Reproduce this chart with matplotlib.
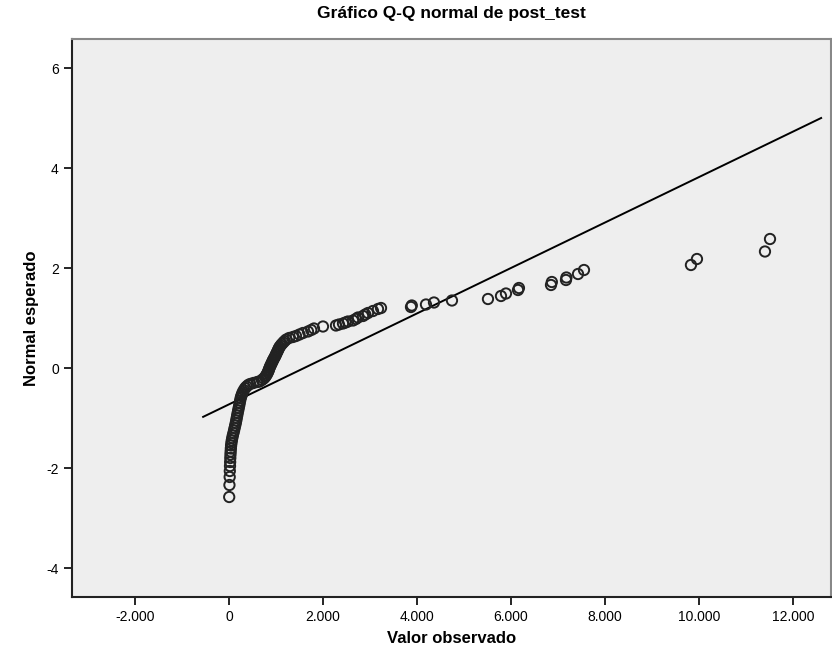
import matplotlib.pyplot as plt
from matplotlib.ticker import FuncFormatter, FixedLocator

plt.rcParams['font.family'] = ['Liberation Sans', 'DejaVu Sans']
plt.rcParams['axes.unicode_minus'] = False

observed = [
    5, 10, 15, 18, 22, 25, 28, 32, 36, 40, 45, 52, 60, 70, 82, 95, 108, 120, 132,
    145, 155, 165, 175, 185, 196, 207, 218, 228, 238, 250, 262, 278, 295, 318, 345,
    375, 410, 450, 520, 600, 650,
    700, 740, 770, 790, 810, 825, 840, 850, 862, 875, 890, 905, 920, 935, 950, 970,
    985, 1000, 1015, 1030, 1045, 1060, 1075, 1100, 1125, 1155, 1185, 1220, 1280,
    1360, 1426, 1500, 1575, 1681, 1750, 1809, 2000, 2277, 2341, 2426, 2480, 2532,
    2639, 2700, 2745, 2852, 2900, 2958, 3064, 3171, 3235, 3873, 3890, 4192, 4362,
    4745, 5511, 5788, 5894, 6150, 6170, 6852, 6870, 7171, 7180, 7427, 7554, 9830,
    9958, 11405, 11512,
]
expected = [
    -2.58, -2.34, -2.18, -2.06, -1.96, -1.88, -1.80, -1.73, -1.67, -1.61, -1.55,
    -1.50, -1.45, -1.40, -1.35, -1.30, -1.25, -1.20, -1.15, -1.10, -1.05, -1.00,
    -0.95, -0.90, -0.85, -0.80, -0.75, -0.70, -0.65, -0.60, -0.56, -0.52, -0.48,
    -0.44, -0.40, -0.37, -0.34, -0.32, -0.30, -0.28, -0.27,
    -0.24, -0.21, -0.18, -0.15, -0.12, -0.09, -0.06, -0.03, 0.00, 0.03, 0.06, 0.09,
    0.12, 0.15, 0.18, 0.21, 0.24, 0.27, 0.30, 0.33, 0.36, 0.39, 0.42, 0.45, 0.48,
    0.51, 0.54, 0.57, 0.60,
    0.62, 0.64, 0.67, 0.70, 0.73, 0.76, 0.79, 0.83, 0.85, 0.87, 0.89, 0.91, 0.93,
    0.95, 0.98, 1.01, 1.04, 1.07, 1.10, 1.14, 1.18, 1.20, 1.22, 1.25, 1.27, 1.31,
    1.35, 1.38, 1.44, 1.49, 1.56, 1.60, 1.66, 1.72, 1.76, 1.81, 1.88, 1.96, 2.06,
    2.18, 2.33, 2.58,
]

# reference line of the normal distribution
line_mean = 1600
line_sd = 2200
line_x = [-550, 12600]

x_ticks = [-2000, 0, 2000, 4000, 6000, 8000, 10000, 12000]
y_ticks = [-4, -2, 0, 2, 4, 6]


def miles(v, pos):
    return f"{int(v):,}".replace(",", ".")


fig = plt.figure(figsize=(8.32, 6.58), dpi=100)
ax = fig.add_axes([72 / 832, 1 - 597 / 658, 759 / 832, 558 / 658])
ax.set_facecolor("#EEEEEE")

line_y = [(x - line_mean) / line_sd for x in line_x]
ax.plot(line_x, line_y, color="black", linewidth=1.4, zorder=2)
ax.scatter(observed, expected, s=55, facecolors="none", edgecolors="#222222",
           linewidths=1.4, zorder=3)

ax.set_xlim(-3340, 12810)
ax.set_ylim(-4.58, 6.58)
ax.xaxis.set_major_locator(FixedLocator(x_ticks))
ax.yaxis.set_major_locator(FixedLocator(y_ticks))
ax.xaxis.set_major_formatter(FuncFormatter(miles))
ax.tick_params(axis="both", direction="out", length=6, width=1.2, labelsize=10,
               colors="black")

for side in ["left", "bottom"]:
    ax.spines[side].set_linewidth(1.5)
    ax.spines[side].set_color("#222222")
for side in ["top", "right"]:
    ax.spines[side].set_linewidth(1.5)
    ax.spines[side].set_color("#888888")

ax.set_title("Gráfico Q-Q normal de post_test", fontsize=12.5, fontweight="bold",
             pad=15)
ax.set_xlabel("Valor observado", fontsize=12, fontweight="bold", labelpad=5)
ax.set_ylabel("Normal esperado", fontsize=12, fontweight="bold", labelpad=5)

fig.savefig("out.png", dpi=100)
